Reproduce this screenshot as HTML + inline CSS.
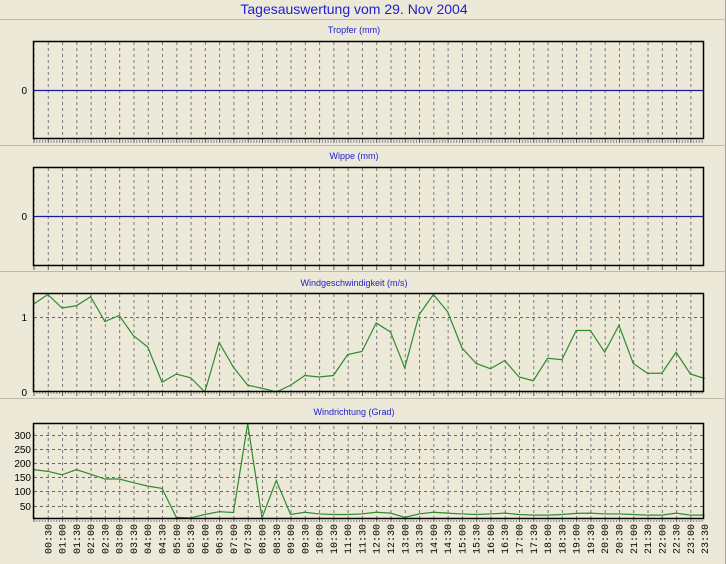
<!DOCTYPE html>
<html><head><meta charset="utf-8"><style>
html,body{margin:0;padding:0;background:#ece9d8;}
svg{display:block;font-family:"Liberation Sans",sans-serif;}
</style></head><body>
<svg width="726" height="564" xmlns="http://www.w3.org/2000/svg">
<defs>
<pattern id="vg" patternUnits="userSpaceOnUse" x="33.5" y="0" width="14.28" height="564">
<line x1="0.5" y1="0" x2="0.5" y2="564" stroke="#777" stroke-width="1" stroke-dasharray="3,3"/>
</pattern>
<pattern id="tk" patternUnits="userSpaceOnUse" x="33.5" y="0" width="14.28" height="10">
<line x1="0.5" y1="0" x2="0.5" y2="10" stroke="#555" stroke-width="1"/>
<line x1="3.3" y1="0" x2="3.3" y2="4" stroke="#888" stroke-width="1"/>
<line x1="6.2" y1="0" x2="6.2" y2="4" stroke="#888" stroke-width="1"/>
<line x1="9" y1="0" x2="9" y2="4" stroke="#888" stroke-width="1"/>
<line x1="11.8" y1="0" x2="11.8" y2="4" stroke="#888" stroke-width="1"/>
</pattern>
</defs>
<rect width="726" height="564" fill="#ece9d8"/>
<line x1="725.5" y1="0" x2="725.5" y2="564" stroke="#aca899"/>
<text x="354" y="14" font-size="14" fill="#2020d0" text-anchor="middle">Tagesauswertung vom 29. Nov 2004</text>
<line x1="0" y1="19.5" x2="726" y2="19.5" stroke="#bdbaa8"/>
<line x1="0" y1="145.5" x2="726" y2="145.5" stroke="#bdbaa8"/>
<line x1="0" y1="271.5" x2="726" y2="271.5" stroke="#bdbaa8"/>
<line x1="0" y1="398.5" x2="726" y2="398.5" stroke="#bdbaa8"/>

<!-- Panel 1 -->
<text x="354" y="33" font-size="9" fill="#2020d0" text-anchor="middle">Tropfer (mm)</text>
<rect x="33.5" y="41.5" width="670" height="97" fill="url(#vg)"/>
<rect x="33.5" y="139" width="670" height="4" fill="url(#tk)"/>
<line x1="34" y1="90.5" x2="703" y2="90.5" stroke="#1a1aa0" stroke-width="1.2"/>
<rect x="33.5" y="41.5" width="670" height="97" fill="none" stroke="#000" stroke-width="1.5"/>
<text x="27" y="94" font-size="10" text-anchor="end">0</text>

<!-- Panel 2 -->
<text x="354" y="159" font-size="9" fill="#2020d0" text-anchor="middle">Wippe (mm)</text>
<rect x="33.5" y="167.5" width="670" height="98" fill="url(#vg)"/>
<rect x="33.5" y="266" width="670" height="4" fill="url(#tk)"/>
<line x1="34" y1="216.5" x2="703" y2="216.5" stroke="#1a1aa0" stroke-width="1.2"/>
<rect x="33.5" y="167.5" width="670" height="98" fill="none" stroke="#000" stroke-width="1.5"/>
<text x="27" y="220" font-size="10" text-anchor="end">0</text>

<!-- Panel 3 -->
<text x="354" y="286" font-size="9" fill="#2020d0" text-anchor="middle">Windgeschwindigkeit (m/s)</text>
<rect x="33.5" y="293.5" width="670" height="98" fill="url(#vg)"/>
<rect x="33.5" y="392" width="670" height="4" fill="url(#tk)"/>
<line x1="34" y1="317.5" x2="703" y2="317.5" stroke="#666" stroke-dasharray="3,3"/>
<polyline fill="none" stroke="#2e8b2e" stroke-width="1.2" vector-effect="non-scaling-stroke" transform="translate(33.5,392) scale(14.28,-75)" points="0,1.17 1,1.30 2,1.12 3,1.15 4,1.27 5,0.94 6,1.02 7,0.75 8,0.60 9,0.13 10,0.24 11,0.19 12,0.0 13,0.66 14,0.33 15,0.09 16,0.05 17,0.0 18,0.09 19,0.22 20,0.20 21,0.22 22,0.50 23,0.54 24,0.92 25,0.80 26,0.32 27,1.03 28,1.30 29,1.07 30,0.59 31,0.38 32,0.31 33,0.42 34,0.20 35,0.15 36,0.45 37,0.43 38,0.82 39,0.82 40,0.53 41,0.89 42,0.38 43,0.25 44,0.25 45,0.53 46,0.24 47,0.18"/>
<rect x="33.5" y="293.5" width="670" height="98" fill="none" stroke="#000" stroke-width="1.5"/>
<text x="27" y="321" font-size="10" text-anchor="end">1</text>
<text x="27" y="396" font-size="10" text-anchor="end">0</text>

<!-- Panel 4 -->
<text x="354" y="415" font-size="9" fill="#2020d0" text-anchor="middle">Windrichtung (Grad)</text>
<rect x="33.5" y="423.5" width="670" height="95" fill="url(#vg)"/>
<rect x="33.5" y="518" width="670" height="4" fill="url(#tk)"/>
<g stroke="#666" stroke-dasharray="3,3">
<line x1="34" y1="435.5" x2="703" y2="435.5"/>
<line x1="34" y1="449.5" x2="703" y2="449.5"/>
<line x1="34" y1="463.5" x2="703" y2="463.5"/>
<line x1="34" y1="477.5" x2="703" y2="477.5"/>
<line x1="34" y1="491.5" x2="703" y2="491.5"/>
<line x1="34" y1="506.5" x2="703" y2="506.5"/>
</g>
<polyline fill="none" stroke="#2e8b2e" stroke-width="1.2" vector-effect="non-scaling-stroke" transform="translate(33.5,520.2) scale(14.28,-0.284)" points="0,178 1,172 2,160 3,178 4,162 5,145 6,145 7,132 8,120 9,112 10,10 11,8 12,20 13,30 14,27 15,340 16,8 17,140 18,20 19,28 20,22 21,20 22,20 23,22 24,28 25,25 26,10 27,22 28,28 29,25 30,22 31,20 32,22 33,25 34,20 35,18 36,18 37,20 38,24 39,25 40,22 41,22 42,20 43,18 44,18 45,25 46,18 47,18"/>
<rect x="33.5" y="423.5" width="670" height="95" fill="none" stroke="#000" stroke-width="1.5"/>
<g font-size="10" text-anchor="end">
<text x="31" y="439">300</text>
<text x="31" y="453">250</text>
<text x="31" y="467">200</text>
<text x="31" y="481">150</text>
<text x="31" y="495">100</text>
<text x="31" y="510">50</text>
</g>
<g font-size="10" font-family="Liberation Mono, monospace" text-anchor="end">
<text transform="translate(51.3,524) rotate(-90)">00:30</text>
<text transform="translate(65.6,524) rotate(-90)">01:00</text>
<text transform="translate(79.8,524) rotate(-90)">01:30</text>
<text transform="translate(94.1,524) rotate(-90)">02:00</text>
<text transform="translate(108.4,524) rotate(-90)">02:30</text>
<text transform="translate(122.7,524) rotate(-90)">03:00</text>
<text transform="translate(137,524) rotate(-90)">03:30</text>
<text transform="translate(151.2,524) rotate(-90)">04:00</text>
<text transform="translate(165.5,524) rotate(-90)">04:30</text>
<text transform="translate(179.8,524) rotate(-90)">05:00</text>
<text transform="translate(194.1,524) rotate(-90)">05:30</text>
<text transform="translate(208.4,524) rotate(-90)">06:00</text>
<text transform="translate(222.6,524) rotate(-90)">06:30</text>
<text transform="translate(236.9,524) rotate(-90)">07:00</text>
<text transform="translate(251.2,524) rotate(-90)">07:30</text>
<text transform="translate(265.5,524) rotate(-90)">08:00</text>
<text transform="translate(279.8,524) rotate(-90)">08:30</text>
<text transform="translate(294,524) rotate(-90)">09:00</text>
<text transform="translate(308.3,524) rotate(-90)">09:30</text>
<text transform="translate(322.6,524) rotate(-90)">10:00</text>
<text transform="translate(336.9,524) rotate(-90)">10:30</text>
<text transform="translate(351.2,524) rotate(-90)">11:00</text>
<text transform="translate(365.4,524) rotate(-90)">11:30</text>
<text transform="translate(379.7,524) rotate(-90)">12:00</text>
<text transform="translate(394,524) rotate(-90)">12:30</text>
<text transform="translate(408.3,524) rotate(-90)">13:00</text>
<text transform="translate(422.6,524) rotate(-90)">13:30</text>
<text transform="translate(436.8,524) rotate(-90)">14:00</text>
<text transform="translate(451.1,524) rotate(-90)">14:30</text>
<text transform="translate(465.4,524) rotate(-90)">15:00</text>
<text transform="translate(479.7,524) rotate(-90)">15:30</text>
<text transform="translate(494,524) rotate(-90)">16:00</text>
<text transform="translate(508.2,524) rotate(-90)">16:30</text>
<text transform="translate(522.5,524) rotate(-90)">17:00</text>
<text transform="translate(536.8,524) rotate(-90)">17:30</text>
<text transform="translate(551.1,524) rotate(-90)">18:00</text>
<text transform="translate(565.4,524) rotate(-90)">18:30</text>
<text transform="translate(579.6,524) rotate(-90)">19:00</text>
<text transform="translate(593.9,524) rotate(-90)">19:30</text>
<text transform="translate(608.2,524) rotate(-90)">20:00</text>
<text transform="translate(622.5,524) rotate(-90)">20:30</text>
<text transform="translate(636.8,524) rotate(-90)">21:00</text>
<text transform="translate(651,524) rotate(-90)">21:30</text>
<text transform="translate(665.3,524) rotate(-90)">22:00</text>
<text transform="translate(679.6,524) rotate(-90)">22:30</text>
<text transform="translate(693.9,524) rotate(-90)">23:00</text>
<text transform="translate(708.2,524) rotate(-90)">23:30</text>
</g>
</svg>
</body></html>
